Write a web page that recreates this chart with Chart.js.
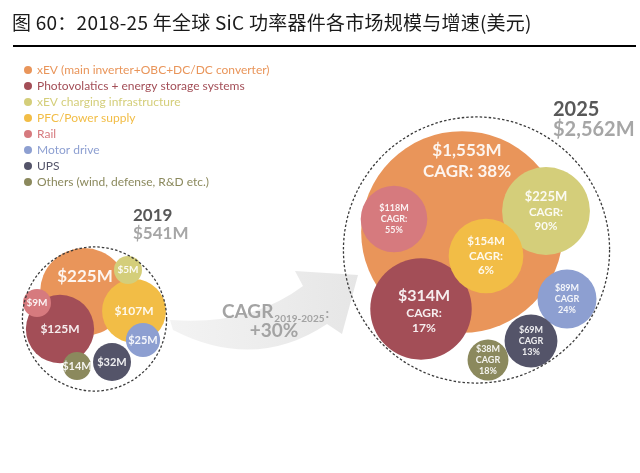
<!DOCTYPE html>
<html>
<head>
<meta charset="utf-8">
<script src="https://cdn.jsdelivr.net/npm/chart.js@4.4.0/dist/chart.umd.min.js"></script>
<style>
    html, body { margin: 0; padding: 0; background: #fff; }
    #marco { position: relative; width: 640px; height: 473px; overflow: hidden; }
    #titulo { position: absolute; left: 12px; top: 8px; font-family: "Noto Sans CJK SC", sans-serif; font-size: 19px; letter-spacing: 0.25px; color: #1a1a1a; white-space: nowrap; }
    #regla { position: absolute; left: 13px; top: 45px; width: 623px; height: 2px; background: #000; }
    canvas { position: absolute; left: 0; top: 0; }
</style>
</head>
<body>
<div id="marco">
    <canvas id="grafico" width="640" height="473"></canvas>
    <div id="titulo">图 60：2018-25 年全球 SiC 功率器件各市场规模与增速(美元)</div>
    <div id="regla"></div>
</div>
<script>
// datos
const categorias = [
    "xEV (main inverter+OBC+DC/DC converter)",
    "Photovolatics + energy storage systems",
    "xEV charging infrastructure",
    "PFC/Power supply",
    "Rail",
    "Motor drive",
    "UPS",
    "Others (wind, defense, R&D etc.)",
];
const anios = ["2019", "2025"];
const valores2019 = [225, 125, 5, 107, 9, 25, 32, 14];
const valores2025 = [1553, 314, 225, 154, 118, 89, 69, 38];
const cagr2025 = [38, 17, 90, 6, 55, 24, 13, 18];
const total2019 = 541;
const total2025 = 2562;
const cagrTotal = 30;

// empaquetado de las burbujas (unidades de los ejes)
const posX2019 = [84, 60, 128, 134, 37, 143, 112, 77];
const posY2019 = [292, 329, 270, 311, 303, 340, 362, 366];
const posX2025 = [462, 421, 546, 486, 394, 567, 531, 488];
const posY2025 = [232, 309, 211, 256, 219, 299, 341, 360];
const centro2019 = [94.5, 319];
const centro2025 = [476.5, 250];

// estilos
const colores = ["#E9955A", "#A34E57", "#D4CE7A", "#F2BD46", "#D67A7E", "#8D9FD1", "#545469", "#8B895D"];
const tam2019 = [[17], [12], [10], [12], [10], [11], [11], [11]];
const tam2025 = [[17, 17], [16, 12, 12], [13, 11.5, 11.5], [11.5, 11.5, 11.5], [9, 9, 9], [9, 9, 9], [9, 9, 9], [9, 9, 9]];
const desplaz2019 = { 0: [1, -15] };
const desplaz2025 = { 0: [5, -71], 1: [3, 2] };
const FUENTE = "Lato, 'Open Sans', sans-serif";

function radio(v) {
    return Math.max(14, 4.28 * Math.pow(v, 0.43));
}

function dinero(v) {
    return "$" + v.toLocaleString("en-US") + "M";
}

function lineas2025(i) {
    if (i === 0) return [dinero(valores2025[i]), "CAGR: " + cagr2025[i] + "%"];
    return [dinero(valores2025[i]), i < 5 ? "CAGR:" : "CAGR", cagr2025[i] + "%"];
}

// las pequeñas quedan encima de las grandes
function puntos(valores, px, py, lineas, tams, desplaz) {
    const orden = valores.map((_, i) => i).sort((a, b) => valores[b] - valores[a]);
    return orden.map((i) => ({
        x: px[i], y: py[i], r: radio(valores[i]),
        cat: i, lineas: lineas(i), tams: tams[i], d: desplaz[i] || [0, 0],
    }));
}

const datos2019 = puntos(valores2019, posX2019, posY2019, (i) => [dinero(valores2019[i])], tam2019, desplaz2019);
const datos2025 = puntos(valores2025, posX2025, posY2025, lineas2025, tam2025, desplaz2025);

const decorado = {
    id: "decorado",
    beforeDatasetsDraw(chart) {
        const c = chart.ctx;
        c.save();
        // flecha curva entre los dos años
        const g = c.createLinearGradient(170, 0, 358, 0);
        g.addColorStop(0, "#f3f3f3");
        g.addColorStop(1, "#e6e6e6");
        c.fillStyle = g;
        c.beginPath();
        c.moveTo(170, 320);
        c.quadraticCurveTo(250, 326, 303, 286);
        c.lineTo(295, 271);
        c.lineTo(358, 275);
        c.lineTo(342, 334);
        c.lineTo(327, 324);
        c.quadraticCurveTo(255, 372, 173, 330);
        c.closePath();
        c.fill();

        c.fillStyle = "#a3a3a3";
        c.textBaseline = "alphabetic";
        c.textAlign = "left";
        c.font = "bold 19px " + FUENTE;
        c.fillText("CAGR", 222, 318);
        let w = c.measureText("CAGR").width;
        c.font = "bold 10px " + FUENTE;
        const sub = anios[0] + "-" + anios[1];
        c.fillText(sub, 222 + w + 1, 322);
        w += c.measureText(sub).width + 1;
        c.font = "bold 14px " + FUENTE;
        c.fillText(":", 222 + w + 1, 318);
        c.font = "bold 19px " + FUENTE;
        c.textAlign = "center";
        c.fillText("+" + cagrTotal + "%", 274, 337);
        c.restore();
    },
    afterDatasetsDraw(chart) {
        const c = chart.ctx;
        const sx = chart.scales.x, sy = chart.scales.y;
        c.save();

        // textos dentro de cada burbuja
        chart.data.datasets.forEach((ds, k) => {
            const meta = chart.getDatasetMeta(k);
            meta.data.forEach((el, j) => {
                const p = ds.data[j];
                const alturas = p.tams.map((t) => t * 1.2 + 0.5);
                const total = alturas.reduce((a, b) => a + b, 0);
                let yy = el.y + p.d[1] - total / 2;
                c.fillStyle = "rgba(255,255,255,0.9)";
                c.textAlign = "center";
                c.textBaseline = "middle";
                p.lineas.forEach((txt, n) => {
                    c.font = "bold " + p.tams[n] + "px " + FUENTE;
                    c.fillText(txt, el.x + p.d[0], yy + alturas[n] / 2);
                    yy += alturas[n];
                });
            });
        });

        // círculos punteados con el total de cada año
        c.setLineDash([2.5, 2]);
        c.lineWidth = 1.3;
        c.strokeStyle = "#3a3a3a";
        [[centro2019, total2019], [centro2025, total2025]].forEach(([cc, t]) => {
            c.beginPath();
            c.arc(sx.getPixelForValue(cc[0]), sy.getPixelForValue(cc[1]), radio(t) + 8, 0, Math.PI * 2);
            c.stroke();
        });
        c.setLineDash([]);

        // año y total
        c.textAlign = "left";
        c.textBaseline = "middle";
        c.font = "bold 17px " + FUENTE;
        c.fillStyle = "#585858";
        c.fillText(anios[0], 133, 216);
        c.fillStyle = "#a6a6a6";
        c.fillText(dinero(total2019), 133, 234);
        c.font = "bold 20px " + FUENTE;
        c.fillStyle = "#585858";
        c.fillText(anios[1], 553, 110);
        c.fillStyle = "#a6a6a6";
        c.fillText(dinero(total2025), 553, 130);

        // leyenda
        c.font = "12px " + FUENTE;
        categorias.forEach((cat, i) => {
            const yy = 70 + i * 16;
            c.fillStyle = colores[i];
            c.beginPath();
            c.arc(28, yy, 4, 0, Math.PI * 2);
            c.fill();
            c.fillText(cat, 37, yy + 0.5);
        });
        c.restore();
    },
};

new Chart(document.getElementById("grafico"), {
    type: "bubble",
    data: {
        datasets: [
            { label: anios[0], data: datos2019, backgroundColor: datos2019.map((p) => colores[p.cat]), borderWidth: 0 },
            { label: anios[1], data: datos2025, backgroundColor: datos2025.map((p) => colores[p.cat]), borderWidth: 0 },
        ],
    },
    options: {
        responsive: false,
        animation: false,
        events: [],
        layout: { padding: 0, autoPadding: false },
        scales: {
            x: { type: "linear", min: 0, max: 640, display: false },
            y: { type: "linear", min: 0, max: 473, reverse: true, display: false },
        },
        plugins: { legend: { display: false }, tooltip: { enabled: false } },
    },
    plugins: [decorado],
});
</script>
</body>
</html>
